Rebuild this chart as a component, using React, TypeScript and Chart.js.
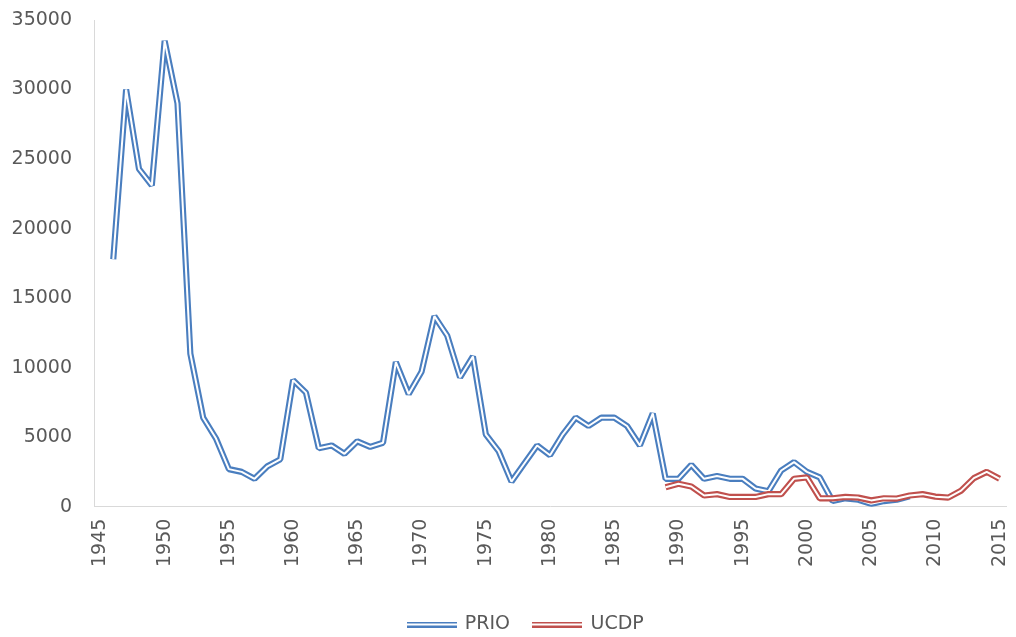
import React, { useEffect, useRef } from 'react';
import { Chart, registerables } from 'chart.js';

Chart.register(...registerables);

const FIRST_YEAR = 1945;
const LAST_YEAR = 2015;

const PRIO_START = 1946;
const prioValues = [
  17800, 30000, 24300, 23100, 33500, 29000, 11000, 6400, 4900, 2700,
  2500, 2000, 2900, 3400, 9100, 8200, 4200, 4400, 3800, 4700,
  4300, 4600, 10400, 8100, 9700, 13700, 12300, 9300, 10800, 5200,
  4000, 1800, 3100, 4400, 3700, 5200, 6400, 5800, 6400, 6400,
  5800, 4400, 6700, 2000, 2000, 3000, 2000, 2200, 2000, 2000,
  1300, 1100, 2600, 3200, 2500, 2100, 400, 600, 500, 200,
  400, 500, 750,
];

const UCDP_START = 1989;
const ucdpValues = [
  1400, 1650, 1450, 800, 900, 700, 700, 700, 900, 900,
  2000, 2100, 600, 600, 700, 650, 450, 600, 580, 800,
  900, 720, 650, 1150, 2050, 2500, 2000,
];

const yTicks = [0, 5000, 10000, 15000, 20000, 25000, 30000, 35000];

const BLUE = '#4a7ebf';
const RED = '#c0504d';
const TEXT = '#595959';
const AXIS = '#d9d9d9';
const FONT = "'DejaVu Sans', sans-serif";

function makeSymbol(color: string) {
  const c = document.createElement('canvas');
  c.width = 50;
  c.height = 6;
  const ctx = c.getContext('2d')!;
  ctx.fillStyle = color;
  ctx.fillRect(0, 0, 50, 2);
  ctx.fillRect(0, 4, 50, 2);
  return c;
}

const legendShift = {
  id: 'legendShift',
  afterLayout(chart: any) {
    if (chart.legend) {
      chart.legend.left += 17;
      chart.legend.right += 17;
    }
  },
};

export default function App() {
  const ref = useRef<HTMLCanvasElement>(null);

  useEffect(() => {
    const labels: string[] = [];
    for (let y = FIRST_YEAR; y <= LAST_YEAR; y++) labels.push(String(y));
    const pad = (start: number, vals: number[]) =>
      labels.map((l) => {
        const i = Number(l) - start;
        return i >= 0 && i < vals.length ? vals[i] : null;
      });
    const prio = pad(PRIO_START, prioValues);
    const ucdp = pad(UCDP_START, ucdpValues);

    const outer = { pointRadius: 0, pointHoverRadius: 0, borderJoinStyle: 'bevel' as const, borderCapStyle: 'butt' as const, tension: 0, fill: false, spanGaps: false };

    const symBlue = makeSymbol(BLUE);
    const symRed = makeSymbol(RED);

    const chart = new Chart(ref.current!, {
      type: 'line',
      data: {
        labels,
        datasets: [
          { label: 'PRIO', data: prio, borderColor: BLUE, backgroundColor: BLUE, borderWidth: 6.2, order: 3, ...outer },
          { label: 'PRIO_inner', data: prio, borderColor: '#ffffff', backgroundColor: '#ffffff', borderWidth: 2, order: 2, ...outer },
          { label: 'UCDP', data: ucdp, borderColor: RED, backgroundColor: RED, borderWidth: 6.2, order: 1, ...outer },
          { label: 'UCDP_inner', data: ucdp, borderColor: '#ffffff', backgroundColor: '#ffffff', borderWidth: 2, order: 0, ...outer },
        ],
      },
      plugins: [legendShift],
      options: {
        animation: false,
        responsive: true,
        maintainAspectRatio: false,
        layout: { padding: { left: 12, right: 10, top: 20, bottom: -7 } },
        plugins: {
          tooltip: { enabled: false },
          legend: {
            position: 'bottom',
            labels: {
              usePointStyle: true,
              pointStyleWidth: 47,
              color: TEXT,
              font: { family: FONT, size: 19 },
              padding: 24,
              generateLabels: () => [
                { text: 'PRIO', fillStyle: BLUE, strokeStyle: BLUE, lineWidth: 0, pointStyle: symBlue, datasetIndex: 0, hidden: false, fontColor: TEXT },
                { text: 'UCDP', fillStyle: RED, strokeStyle: RED, lineWidth: 0, pointStyle: symRed, datasetIndex: 2, hidden: false, fontColor: TEXT },
              ] as any,
            },
          },
        },
        scales: {
          x: {
            type: 'category',
            offset: true,
            grid: { display: false, drawTicks: false },
            border: { display: true, color: AXIS, width: 1 },
            afterFit: (axis: any) => {
              axis.paddingLeft = 0;
              axis.paddingRight = 0;
              axis.height += 12;
            },
            ticks: {
              autoSkip: false,
              minRotation: 90,
              maxRotation: 90,
              padding: 12,
              color: TEXT,
              font: { family: FONT, size: 19 },
              callback: (_v: any, i: number) => {
                const yr = Number(labels[i]);
                return yr % 5 === 0 ? String(yr) : '';
              },
            },
          },
          y: {
            min: 0,
            max: 35000,
            afterBuildTicks: (axis: any) => {
              axis.ticks = yTicks.map((v) => ({ value: v }));
            },
            afterFit: (axis: any) => {
              axis.width = 82;
              axis.paddingTop = 0;
              axis.paddingBottom = 0;
            },
            grid: { display: false, drawTicks: false },
            border: { display: true, color: AXIS, width: 1 },
            ticks: {
              padding: 22,
              color: TEXT,
              font: { family: FONT, size: 19 },
              callback: (v: any) => String(v),
            },
          },
        },
      },
    });
    return () => chart.destroy();
  }, []);

  return (
    <div style={{ position: 'fixed', left: 0, top: 0, width: 1016, height: 637, background: '#fff' }}>
      <canvas ref={ref} />
    </div>
  );
}
